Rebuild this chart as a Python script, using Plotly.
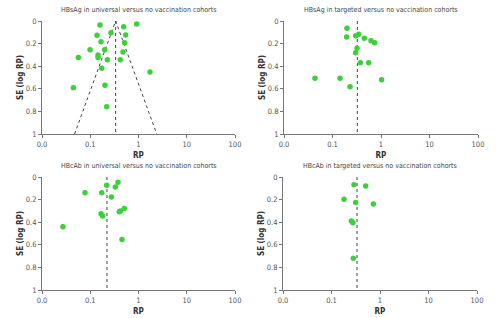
import math
import plotly.graph_objects as go

# ---- data ----
titles = ["HBsAg in universal versus no vaccination cohorts",
          "HBsAg in targeted versus no vaccination cohorts",
          "HBcAb in universal versus no vaccination cohorts",
          "HBcAb in targeted versus no vaccination cohorts"]

rp_hbsag_univ = [0.159, 0.493, 0.916, 0.269, 0.138, 0.542, 0.167, 0.516, 0.099, 0.199,
                 0.478, 0.145, 0.145, 0.0566, 0.226, 0.42, 0.173, 1.73, 0.202, 0.0446, 0.219]
se_hbsag_univ = [0.035, 0.05, 0.027, 0.103, 0.127, 0.124, 0.183, 0.192, 0.254, 0.254,
                 0.274, 0.301, 0.322, 0.324, 0.342, 0.342, 0.419, 0.451, 0.569, 0.59, 0.758]

rp_hbsag_targ = [0.199, 0.196, 0.301, 0.347, 0.453, 0.622, 0.74, 0.32, 0.30, 0.375,
                 0.557, 0.0435, 0.143, 1.03, 0.230]
se_hbsag_targ = [0.065, 0.142, 0.130, 0.117, 0.153, 0.174, 0.192, 0.242, 0.28, 0.369,
                 0.369, 0.507, 0.507, 0.519, 0.581]

rp_hbcab_univ = [0.376, 0.219, 0.331, 0.0778, 0.173, 0.274, 0.508, 0.42, 0.40, 0.167,
                 0.181, 0.0272, 0.455]
se_hbcab_univ = [0.047, 0.074, 0.089, 0.139, 0.139, 0.178, 0.278, 0.30, 0.308, 0.325,
                 0.346, 0.441, 0.553]

rp_hbcab_targ = [0.291, 0.507, 0.181, 0.315, 0.728, 0.256, 0.277, 0.282]
se_hbcab_targ = [0.068, 0.080, 0.196, 0.226, 0.240, 0.389, 0.404, 0.718]

pooled = [0.336, 0.325, 0.222, 0.336]
show_funnel = [True, False, False, False]

x_tickvals = [0.01, 0.1, 1, 10, 100]
x_ticktext = ["0.0", "0.1", "1", "10", "100"]
y_tickvals = [0, 0.2, 0.4, 0.6, 0.8, 1]
y_ticktext = ["0", "0.2", "0.4", "0.6", "0.8", "1"]

panels = [(rp_hbsag_univ, se_hbsag_univ), (rp_hbsag_targ, se_hbsag_targ),
          (rp_hbcab_univ, se_hbcab_univ), (rp_hbcab_targ, se_hbcab_targ)]

# ---- layout geometry (pixels) ----
W, H = 499, 318
xdoms = [(42, 235), (284, 478), (42, 235), (283, 477)]
ydoms = [(21, 134), (21, 134), (177, 290), (177, 290)]

FONT = "Liberation Sans Narrow, DejaVu Sans Condensed, Arial Narrow, sans-serif"
GREEN = "#3ad13a"
AXC = "#777777"

fig = go.Figure()
layout = dict(width=W, height=H, margin=dict(l=0, r=0, t=0, b=0, autoexpand=False),
              paper_bgcolor="white", plot_bgcolor="white", showlegend=False,
              font=dict(family=FONT, size=7, color="#444444"))
annotations = []

for i, ((rp, se), pool) in enumerate(zip(panels, pooled)):
    n = "" if i == 0 else str(i + 1)
    xa, ya = "x" + n, "y" + n
    # vertical pooled line
    fig.add_trace(go.Scatter(x=[pool, pool], y=[0, 1], mode="lines", xaxis=xa, yaxis=ya,
                             line=dict(color="#444444", width=1, dash="dot"), hoverinfo="skip"))
    if show_funnel[i]:
        k = 1.96
        fig.add_trace(go.Scatter(x=[pool * math.exp(-k * 1), pool, pool * math.exp(k * 1)],
                                 y=[1, 0, 1], mode="lines", xaxis=xa, yaxis=ya,
                                 line=dict(color="#444444", width=1, dash="dot"), hoverinfo="skip"))
    fig.add_trace(go.Scatter(x=rp, y=se, mode="markers", xaxis=xa, yaxis=ya,
                             marker=dict(color=GREEN, size=5.5, line=dict(width=0))))
    x0, x1 = xdoms[i]
    y0, y1 = ydoms[i]
    layout["xaxis" + n] = dict(domain=[x0 / W, x1 / W], anchor=ya, type="log", range=[-2, 2],
                               tickvals=x_tickvals, ticktext=x_ticktext, showgrid=False,
                               zeroline=False, showline=True, linecolor=AXC, linewidth=1,
                               ticks="outside", ticklen=3, tickcolor=AXC,
                               tickfont=dict(size=7.5, color="#555555"),
                               title=dict(text="<b>RP</b>", standoff=4,
                                          font=dict(size=8, color="#333333")))
    layout["yaxis" + n] = dict(domain=[1 - y1 / H, 1 - y0 / H], anchor=xa, range=[1, 0],
                               tickvals=y_tickvals, ticktext=y_ticktext, showgrid=False,
                               zeroline=False, showline=True, linecolor=AXC, linewidth=1,
                               ticks="outside", ticklen=3, tickcolor=AXC,
                               tickfont=dict(size=7.5, color="#555555"),
                               title=dict(text="<b>SE (log RP)</b>", standoff=0,
                                          font=dict(size=8, color="#333333")))
    annotations.append(dict(text=titles[i], xref="paper", yref="paper",
                            x=(x0 + x1) / 2 / W, y=1 - (y0 - 11) / H, yanchor="middle",
                            xanchor="center", showarrow=False,
                            font=dict(size=7, color="#444444")))

layout["annotations"] = annotations
fig.update_layout(**layout)
fig.write_html("out.html", config={"displayModeBar": False},
               post_script="document.body.style.margin='0px';document.body.style.padding='0px';")
